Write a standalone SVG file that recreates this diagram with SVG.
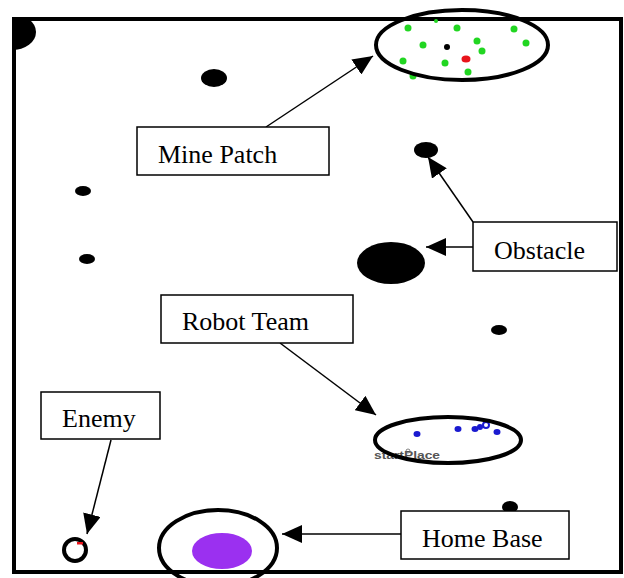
<svg xmlns="http://www.w3.org/2000/svg" width="624" height="578" viewBox="0 0 624 578">
<style>
.ob{fill:#000}
.gm{fill:#22d622}
.bl{fill:#1a1ad0}
.ring{fill:none;stroke:#000;stroke-width:4}
.box{fill:#fff;stroke:#000;stroke-width:1.5}
.lbl{font-family:"Liberation Serif","Times New Roman",serif;font-size:26px;fill:#000}
.con{stroke:#000;stroke-width:1.5;fill:none;marker-end:url(#ah)}
</style>
<defs>
<marker id="ah" markerUnits="userSpaceOnUse" markerWidth="20" markerHeight="18" refX="20" refY="9" orient="auto">
<path d="M0,0 L20,9 L0,18 z" fill="#000"/>
</marker>
<clipPath id="inner"><rect x="14" y="19" width="607" height="553"/></clipPath>
</defs>
<rect width="624" height="578" fill="#fff"/>
<g id="field">
<ellipse cx="12" cy="32" rx="24" ry="18" class="ob" clip-path="url(#inner)"/>
<ellipse cx="214" cy="78" rx="13" ry="9" class="ob"/>
<ellipse cx="83" cy="191" rx="8" ry="5" class="ob"/>
<ellipse cx="87" cy="259" rx="8" ry="5" class="ob"/>
<ellipse cx="426" cy="150" rx="12" ry="8" class="ob"/>
<ellipse cx="391" cy="263" rx="34" ry="21" class="ob"/>
<ellipse cx="499" cy="330" rx="8" ry="5" class="ob"/>
<ellipse cx="510" cy="507" rx="8" ry="6" class="ob"/>
<rect x="14" y="19" width="607" height="553" fill="none" stroke="#000" stroke-width="4"/>
</g>
<g id="mines">
<circle cx="408" cy="28" r="3.5" class="gm"/>
<circle cx="436" cy="21" r="2" class="gm"/>
<circle cx="457" cy="28" r="3.5" class="gm"/>
<circle cx="514" cy="29" r="3.5" class="gm"/>
<circle cx="423" cy="45" r="3.5" class="gm"/>
<circle cx="477" cy="41" r="3.5" class="gm"/>
<circle cx="526" cy="43" r="3.5" class="gm"/>
<circle cx="482" cy="51" r="3.5" class="gm"/>
<circle cx="403" cy="61" r="3.5" class="gm"/>
<circle cx="445" cy="63" r="3.5" class="gm"/>
<circle cx="468" cy="72" r="3.5" class="gm"/>
<circle cx="413" cy="76" r="3.5" class="gm"/>
<circle cx="447" cy="47" r="3" fill="#000"/>
<ellipse cx="466" cy="59" rx="4.5" ry="3.5" fill="#e8141b"/>
<ellipse cx="462" cy="45" rx="86" ry="35" class="ring"/>
</g>
<g id="robots">
<text x="374" y="459" font-family="Liberation Sans, Arial, sans-serif" font-size="11" font-weight="bold" fill="#555" textLength="66" lengthAdjust="spacingAndGlyphs">startPlace</text>
<circle cx="408" cy="451" r="2" fill="none" stroke="#666" stroke-width="0.8"/>
<ellipse cx="417" cy="434" rx="3.5" ry="3" class="bl"/>
<ellipse cx="458" cy="429" rx="3.5" ry="3" class="bl"/>
<ellipse cx="475" cy="429" rx="3.5" ry="3" class="bl"/>
<circle cx="480" cy="427" r="3" class="bl"/>
<circle cx="486" cy="425" r="3" fill="none" stroke="#1a1ad0" stroke-width="2"/>
<ellipse cx="497" cy="432" rx="3.5" ry="3" class="bl"/>
<ellipse cx="448" cy="440" rx="73" ry="23" class="ring"/>
</g>
<g id="enemy">
<circle cx="75" cy="550" r="11" class="ring" stroke-width="3"/>
<rect x="77" y="542" width="6" height="2.5" fill="#e8141b"/>
</g>
<g id="homebase">
<ellipse cx="222" cy="551" rx="30" ry="18" fill="#9b30f0"/>
<ellipse cx="218" cy="548" rx="59" ry="38" class="ring"/>
</g>
<g id="connectors">
<line x1="266" y1="127" x2="373" y2="56" class="con"/>
<line x1="473" y1="222" x2="428" y2="157" class="con"/>
<line x1="473" y1="247" x2="426" y2="247" class="con"/>
<line x1="280" y1="343" x2="376" y2="415" class="con"/>
<line x1="111" y1="440" x2="87" y2="534" class="con"/>
<line x1="401" y1="534" x2="282" y2="534" class="con"/>
</g>
<g id="label-mine-patch">
<rect x="137" y="127" width="192" height="48" class="box"/>
<text x="158" y="163" class="lbl">Mine Patch</text>
</g>
<g id="label-obstacle">
<rect x="473" y="222" width="144" height="49" class="box"/>
<text x="494" y="259" class="lbl">Obstacle</text>
</g>
<g id="label-robot-team">
<rect x="161" y="295" width="192" height="48" class="box"/>
<text x="182" y="330" class="lbl">Robot Team</text>
</g>
<g id="label-enemy">
<rect x="41" y="392" width="119" height="47" class="box"/>
<text x="62" y="427" class="lbl">Enemy</text>
</g>
<g id="label-home-base">
<rect x="401" y="511" width="168" height="48" class="box"/>
<text x="422" y="547" class="lbl">Home Base</text>
</g>
</svg>
